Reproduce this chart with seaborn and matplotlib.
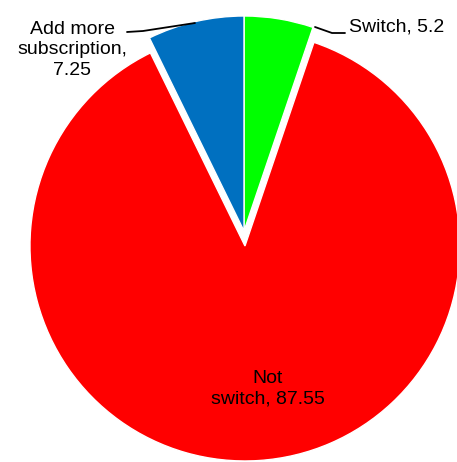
import matplotlib
matplotlib.use("Agg")
import matplotlib.pyplot as plt
import seaborn as sns

categories = ["Switch", "Not switch", "Add more subscription"]
values = [5.2, 87.55, 7.25]
label_texts = ["Switch, 5.2", "Not\nswitch, 87.55", "Add more\nsubscription,\n7.25"]
colors = ["#00FF00", "#FF0000", "#0070C0"]

sns.set_style("white")
plt.rcParams['font.family'] = ['Liberation Sans Narrow', 'Liberation Sans', 'DejaVu Sans']

W, H = 457, 462
fig = plt.figure(figsize=(W / 100, H / 100), dpi=100)
ax = fig.add_axes([0, 0, 1, 1])

R = 215
wedges, _ = ax.pie(values, colors=colors, startangle=90, counterclock=False,
                   center=(244, 231), radius=R, explode=[0, 15, 0],
                   wedgeprops=dict(edgecolor="white", linewidth=1), frame=True)
ax.set_xlim(0, W)
ax.set_ylim(0, H)
ax.axis("off")

fs = 14
# Switch label
ax.text(349, 435, label_texts[0], fontsize=fs, ha="left", va="center", color="black")
ax.plot([315, 332, 345], [435, 429, 429], color="black", lw=1.3)
# Add more subscription label
ax.text(72, 412, label_texts[2], fontsize=fs, ha="center", va="center",
        color="black", linespacing=1.3)
ax.plot([195, 143, 127], [439, 431, 430], color="black", lw=1.3)
# Not switch label
ax.text(268, 73, label_texts[1], fontsize=fs, ha="center", va="center",
        color="black", linespacing=1.3)

fig.savefig("out.png", dpi=100)
